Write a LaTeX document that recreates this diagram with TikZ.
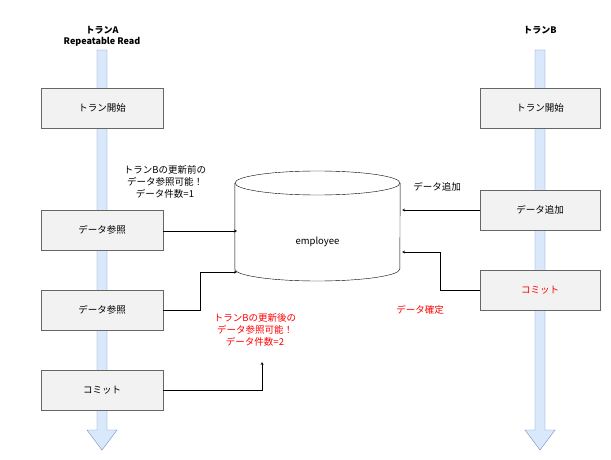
\documentclass[tikz,border=0pt]{standalone}
\usepackage{fontspec}
\setmainfont{Noto Sans CJK JP}
\usetikzlibrary{positioning}
\definecolor{lanefill}{HTML}{DAE8FC}
\definecolor{laneline}{HTML}{6C8EBF}
\tikzset{
  stepbox/.style={draw=black!60, fill=black!5, minimum width=122pt, minimum height=40pt, inner sep=0pt, font=\fontsize{9.5}{11}\selectfont},
  note/.style={align=center, font=\fontsize{9.5}{12}\selectfont},
  link/.style={->, >=stealth},
  lane/.style={draw=laneline, fill=lanefill},
}
\begin{document}
\begin{tikzpicture}[x=1pt, y=-1pt]
  \useasboundingbox (0,0) rectangle (611,460);

  % lanes
  \foreach \lx in {102, 540} {
    \draw[lane] (\lx-5,50) -- (\lx+5,50) -- (\lx+5,430) -- (\lx+15,430)
      -- (\lx,450) -- (\lx-15,430) -- (\lx-5,430) -- cycle;
  }
  \node[note, font=\bfseries\fontsize{9}{11}\selectfont] (titleA) at (102,36) {トランA\\Repeatable Read};
  \node[note, font=\bfseries\fontsize{9}{11}\selectfont] (titleB) at (540,30) {トランB};

  % tran A
  \node[stepbox] (a1) at (102,108) {トラン開始};
  \node[stepbox] (a2) at (102,230) {データ参照};
  \node[stepbox] (a3) at (102,310) {データ参照};
  \node[stepbox] (a4) at (102,390) {コミット};

  % tran B
  \node[stepbox, minimum width=120pt] (b1) at (540,108) {トラン開始};
  \node[stepbox, minimum width=120pt] (b2) at (540,210) {データ追加};
  \node[stepbox, minimum width=120pt, text=red] (b3) at (540,290) {コミット};

  % table
  \node[minimum width=165pt, minimum height=110pt, inner sep=0pt] (db) at (317.5,226) {};
  \draw[fill=white] (db.west |- 0,183) -- (db.west |- 0,269)
    arc[start angle=180, end angle=360, x radius=82.5, y radius=-12]
    -- (db.east |- 0,183);
  \draw[fill=white] (317.5,183) ellipse[x radius=82.5, y radius=12];
  \node[note] (dbname) at (317.5,242) {employee};

  % notes
  \node[note] (n1) at (165,182) {トランBの更新前の\\データ参照可能！\\データ件数=1};
  \node[note, text=red] (n2) at (255,330) {トランBの更新後の\\データ参照可能！\\データ件数=2};
  \node[note] (n3) at (437,187) {データ追加};
  \node[note, text=red] (n4) at (420,310) {データ確定};

  % connectors
  \coordinate (d1) at (237,231);
  \coordinate (d2) at (237,272);
  \coordinate (d3) at (262,362);
  \coordinate (d4) at (402,210);
  \coordinate (d5) at (402,252);
  \draw[link] (a2.east |- d1) -- (d1);
  \draw[link] (a3.east) -- (200,310) -- (200,272) -- (d2);
  \draw[link] (a4.east) -- (262,390) -- (d3);
  \draw[link] (b2.west |- d4) -- (d4);
  \draw[link] (b3.west) -- (440,290) -- (440,252) -- (d5);
\end{tikzpicture}
\end{document}
